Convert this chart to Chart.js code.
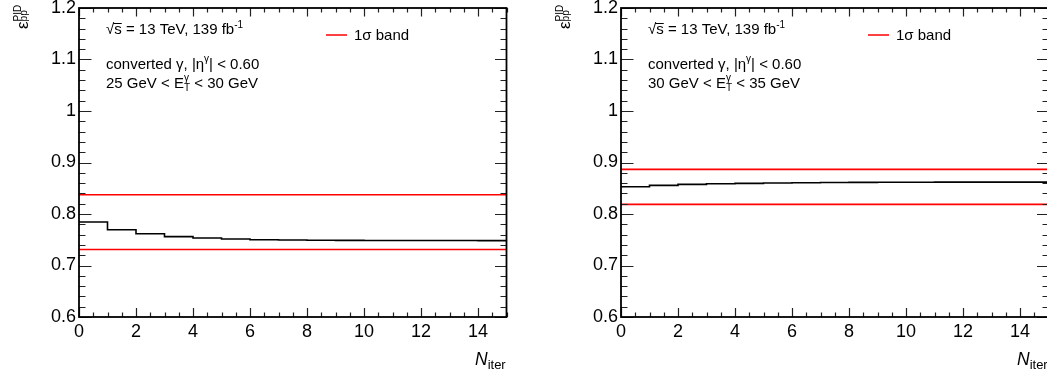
<!DOCTYPE html>
<html lang="en">
<head>
<meta charset="utf-8">
<title>PID efficiency vs iterations</title>
<script src="https://cdn.jsdelivr.net/npm/chart.js@4.4.0/dist/chart.umd.min.js"></script>
<style>
  body { margin: 0; background: #fff; width: 1047px; height: 376px; overflow: hidden; position: relative; }
  .panel { position: absolute; top: 0; width: 542px; height: 376px; }
</style>
</head>
<body>
<div class="panel" style="left:0"><canvas id="pidLow" width="542" height="376"></canvas></div>
<div class="panel" style="left:542px"><canvas id="pidHigh" width="542" height="376"></canvas></div>
<script>
// iteration bin edges and the efficiency in each bin
const iterEdges = [0, 1, 2, 3, 4, 5, 6, 7, 8, 9, 10, 11, 12, 13, 14, 15];
const effEt25to30 = [0.7845, 0.7695, 0.7617, 0.7560, 0.7534, 0.7515, 0.7500, 0.7495,
                     0.7490, 0.7488, 0.7486, 0.7485, 0.7484, 0.7484, 0.7483];
const effEt30to35 = [0.8530, 0.8555, 0.8575, 0.8588, 0.8594, 0.8602, 0.8608, 0.8612,
                     0.8614, 0.8616, 0.8617, 0.8618, 0.8618, 0.8618, 0.8618];
// 1 sigma band (low, high)
const bandEt25to30 = [0.7310, 0.8375];
const bandEt30to35 = [0.8186, 0.8866];
const etRanges = [[25, 30], [30, 35]];
const xTicks = [0, 2, 4, 6, 8, 10, 12, 14];
const yTicks = [0.6, 0.7, 0.8, 0.9, 1.0, 1.1, 1.2];

const FONT = '"Liberation Sans", Arial, Helvetica, sans-serif';

function stepPoints(vals) {
  const pts = vals.map((v, i) => ({x: iterEdges[i], y: v}));
  pts.push({x: iterEdges[vals.length], y: vals[vals.length - 1]});
  return pts;
}

function flatLine(v) {
  return [{x: iterEdges[0], y: v}, {x: iterEdges[iterEdges.length - 1], y: v}];
}

// draws a run of text pieces; a piece with stack:true does not advance the pen
function drawRich(ctx, x, y, parts) {
  let pen = x;
  let stackW = 0;
  for (const p of parts) {
    ctx.font = (p.italic ? 'italic ' : '') + p.size + 'px ' + FONT;
    ctx.fillText(p.t, pen, y + (p.dy || 0));
    const w = ctx.measureText(p.t).width;
    if (p.stack) {
      stackW = Math.max(stackW, w);
    } else {
      pen += Math.max(w, stackW);
      stackW = 0;
    }
  }
  return pen;
}

const frameTicks = {
  id: 'frameTicks',
  afterDraw(chart) {
    const {ctx, chartArea: a, scales: {x, y}} = chart;
    ctx.save();
    ctx.strokeStyle = '#222';
    ctx.lineWidth = 1.2;
    ctx.beginPath();
    // x: major every 2, minor every 0.5
    for (let k = 0; k <= 30; k++) {
      const v = k * 0.5;
      const px = Math.round(x.getPixelForValue(v)) + 0.5;
      const major = xTicks.includes(v);
      ctx.moveTo(px, a.bottom); ctx.lineTo(px, a.bottom - (major ? 9 : 4.5));
      ctx.moveTo(px, a.top); ctx.lineTo(px, a.top + (major ? 8.5 : 4.5));
    }
    // y: major every 0.1, minor every 0.02
    for (let k = 0; k <= 30; k++) {
      const v = 0.6 + k * 0.02;
      const py = Math.round(y.getPixelForValue(v)) + 0.5;
      const major = k % 5 === 0;
      ctx.moveTo(a.left, py); ctx.lineTo(a.left + (major ? 12.5 : 6.5), py);
      ctx.moveTo(a.right, py); ctx.lineTo(a.right - (major ? 11.5 : 6), py);
    }
    ctx.stroke();
    ctx.lineWidth = 1.8;
    ctx.strokeStyle = '#000';
    ctx.strokeRect(a.left, a.top, a.right - a.left, a.bottom - a.top);
    ctx.restore();
  }
};

const panelText = {
  id: 'panelText',
  afterDraw(chart, args, opts) {
    const ctx = chart.ctx;
    ctx.save();
    ctx.fillStyle = '#000';
    ctx.textBaseline = 'alphabetic';
    ctx.textAlign = 'left';

    // sqrt(s) = 13 TeV, 139 fb^-1
    ctx.font = '15px ' + FONT;
    const rootW = ctx.measureText('\u221A').width;
    const sW = ctx.measureText('s').width;
    drawRich(ctx, 106, 34, [
      {t: '\u221As = 13 TeV, 139 fb', size: 15},
      {t: '-1', size: 10, dy: -6.5}
    ]);
    ctx.fillRect(106 + rootW - 1, 23, sW + 1, 1);

    drawRich(ctx, 106, 68.5, [
      {t: 'converted \u03B3, |\u03B7', size: 15},
      {t: '\u03B3', size: 10, dy: -6.5},
      {t: '| < 0.60', size: 15}
    ]);
    drawRich(ctx, 106, 87.5, [
      {t: opts.etLow + ' GeV < E', size: 15},
      {t: '\u03B3', size: 10, dy: -6.5, stack: true},
      {t: 'T', size: 10, dy: 3},
      {t: ' < ' + opts.etHigh + ' GeV', size: 15}
    ]);

    // legend entry for the band
    ctx.beginPath();
    ctx.strokeStyle = 'rgb(255,0,0)';
    ctx.lineWidth = 1.5;
    ctx.moveTo(326, 35); ctx.lineTo(347, 35);
    ctx.stroke();
    drawRich(ctx, 354, 40, [{t: '1\u03C3 band', size: 15}]);

    // axis titles
    drawRich(ctx, 475, 365, [
      {t: 'N', size: 17.5, italic: true},
      {t: 'iter', size: 13, dy: 3.5}
    ]);
    ctx.translate(27.5, 29);
    ctx.rotate(-Math.PI / 2);
    drawRich(ctx, 0, 0, [
      {t: '\u03B5', size: 17},
      {t: 'PID', size: 10, dy: -7, stack: true},
      {t: 'pp', size: 10, dy: -1}
    ]);
    ctx.restore();
  }
};

function makePanel(id, eff, band, et) {
  new Chart(document.getElementById(id), {
    type: 'line',
    data: {
      datasets: [
        {data: stepPoints(eff), stepped: true, borderColor: '#000', borderWidth: 1.6, pointRadius: 0},
        {data: flatLine(band[1]), borderColor: 'rgb(255,0,0)', borderWidth: 1.6, pointRadius: 0},
        {data: flatLine(band[0]), borderColor: 'rgb(255,0,0)', borderWidth: 1.6, pointRadius: 0}
      ]
    },
    options: {
      responsive: false,
      animation: false,
      devicePixelRatio: 1,
      layout: {padding: {top: 8, right: 35.5, bottom: 0, left: 0}},
      plugins: {
        legend: {display: false},
        tooltip: {enabled: false},
        panelText: {etLow: et[0], etHigh: et[1]}
      },
      scales: {
        x: {
          type: 'linear', min: 0, max: 15,
          grid: {display: false, drawTicks: false},
          border: {display: false},
          afterBuildTicks: s => { s.ticks = xTicks.map(v => ({value: v})); },
          afterFit: s => { s.height = 59; s.paddingLeft = 0; s.paddingRight = 0; },
          ticks: {
            autoSkip: false, maxRotation: 0, padding: 4, color: '#000',
            font: {family: FONT, size: 18},
            callback: v => String(v)
          }
        },
        y: {
          type: 'linear', min: 0.6, max: 1.2,
          grid: {display: false, drawTicks: false},
          border: {display: false},
          afterBuildTicks: s => { s.ticks = yTicks.map(v => ({value: v})); },
          afterFit: s => { s.width = 79; s.paddingTop = 0; s.paddingBottom = 0; },
          ticks: {
            autoSkip: false, padding: 3, color: '#000',
            font: {family: FONT, size: 18},
            callback: v => String(+v.toFixed(2))
          }
        }
      }
    },
    plugins: [frameTicks, panelText]
  });
}

makePanel('pidLow', effEt25to30, bandEt25to30, etRanges[0]);
makePanel('pidHigh', effEt30to35, bandEt30to35, etRanges[1]);
</script>
</body>
</html>
